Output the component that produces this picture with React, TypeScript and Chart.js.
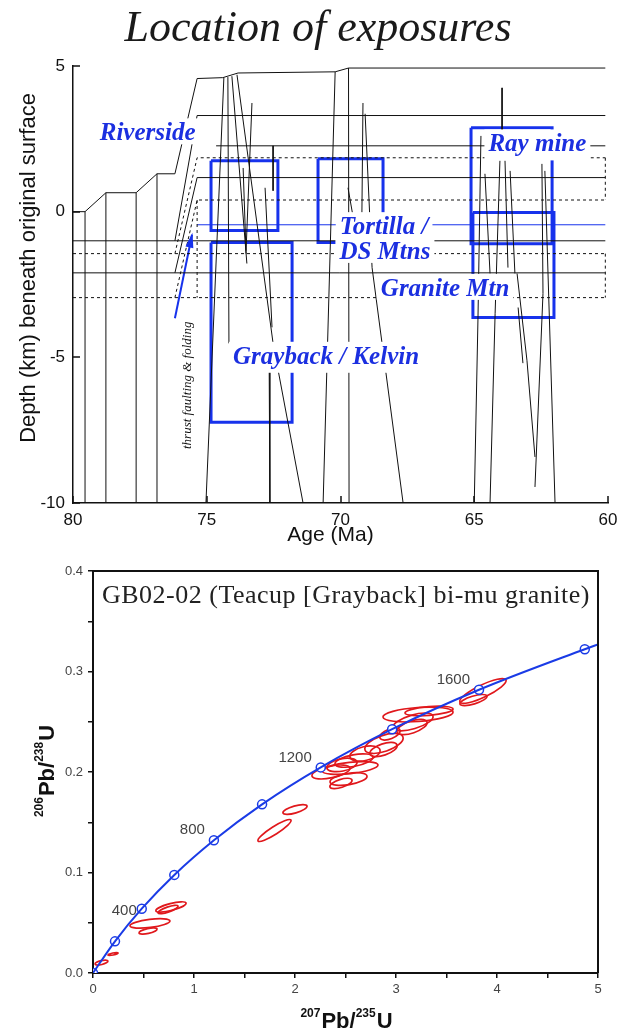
import React, { useEffect, useRef } from 'react';
import { Chart, registerables } from 'chart.js';

Chart.register(...registerables);

type Pt = [number, number];

const SANS = '"Liberation Sans", Arial, sans-serif';
const SERIF = '"Liberation Serif", "Times New Roman", serif';
const INK = '#111111';
const BLUE = '#1732ec';
const BLUE_TEXT = '#1b2fe0';
const CURVE_BLUE = '#1a3be6';
const RED = '#e0181c';

// ================= Top panel: depth vs age =================
const topTitle = 'Location of exposures';
const ageAxisTitle = 'Age (Ma)';
const depthAxisTitle = 'Depth (km) beneath original surface';
const ageTicks = [60, 65, 70, 75, 80];
const depthTicks = [-10, -5, 0, 5];

const surfaceLine: Pt[] = [
  [80, 0], [79.55, 0], [78.77, 0.65], [77.64, 0.65], [76.86, 1.3], [76.19, 1.3],
  [75.36, 4.57], [74.4, 4.6], [73.83, 4.76], [70.2, 4.8], [69.7, 4.93], [60.1, 4.93],
];
const solidLayers: Pt[][] = [
  [[80, -1.0], [60.1, -1.0]],
  [[76.19, -1.0], [75.36, 3.3], [60.1, 3.3]],
  [[80, -2.1], [60.1, -2.1]],
  [[76.19, -2.1], [75.36, 1.17], [60.1, 1.17]],
  [[74.65, 2.26], [60.1, 2.26]],
];
const dashedLayers: Pt[][] = [
  [[80, -1.44], [60.1, -1.44]],
  [[76.19, -1.44], [75.36, 1.85], [60.1, 1.85]],
  [[80, -2.95], [60.1, -2.95]],
  [[76.19, -2.95], [75.36, 0.4], [60.1, 0.4]],
  [[75.36, 0.4], [75.36, -2.95]],
  [[60.1, 1.85], [60.1, 0.4]],
  [[60.1, -1.44], [60.1, -2.95]],
];
const oldContacts: Pt[][] = [
  [[79.55, -10], [79.55, 0]],
  [[78.77, -10], [78.77, 0.65]],
  [[77.64, -10], [77.64, 0.65]],
  [[76.86, -10], [76.86, 1.3]],
];
const dikesGrayback: Pt[][] = [
  [[75.03, -10], [74.36, 4.6]],
  [[74.21, 4.62], [74.17, -4.52]],
  [[74.06, 4.65], [73.5, -1.78]],
  [[73.87, 4.7], [72.52, -4.52], [71.4, -10]],
  [[72.67, -4.52], [72.64, -10]],
  [[73.31, 3.73], [73.53, -1.34]],
  [[72.52, 2.26], [72.52, 0.72]],
  [[72.82, 0.82], [72.56, -3.97]],
  [[73.64, 1.5], [73.53, -1.44]],
];
const dikesTortilla: Pt[][] = [
  [[70.2, 4.8], [70.65, -10]],
  [[69.7, 4.93], [69.68, -10]],
  [[69.16, 3.73], [69.2, -0.07]],
  [[69.08, 3.36], [68.82, -1.92], [67.66, -10]],
  [[69.72, 0.82], [69.55, -0.07]],
];
const dikesRay: Pt[][] = [
  [[63.96, 4.25], [63.96, 2.67]],
  [[64.75, 2.6], [64.86, -3.63], [65.0, -10]],
  [[64.6, 1.3], [64.41, -2.12]],
  [[64.04, 1.75], [64.22, -3.49], [64.41, -10]],
  [[63.85, 1.75], [63.74, -1.92]],
  [[63.66, 1.4], [63.48, -2.12]],
  [[63.4, -2.12], [63.03, -5.1], [62.73, -8.42]],
  [[63.36, -3.29], [63.18, -5.2]],
  [[62.47, 1.64], [62.43, -2.81], [62.73, -9.45]],
  [[62.36, 1.4], [61.98, -10]],
];
const referenceLine: Pt[] = [[75.36, -0.45], [60.1, -0.45]];
const arrowLine: Pt[] = [[76.19, -3.66], [75.55, -0.79]];

const boxAgeFrom = [74.84, 74.84, 70.84, 65.12, 65.05];
const boxAgeTo = [72.34, 71.81, 68.41, 62.09, 62.02];
const boxDepthTop = [1.75, -1.06, 1.82, 2.88, -0.03];
const boxDepthBottom = [-0.65, -7.23, -1.06, -1.1, -3.63];

const siteLabels = ['Riverside', 'Ray mine', 'Tortilla /', 'DS Mtns', 'Granite Mtn', 'Grayback / Kelvin'];
const siteLabelAge = [77.21, 62.64, 68.37, 68.34, 66.09, 70.54];
const siteLabelDepth = [2.67, 2.29, -0.55, -1.4, -2.67, -5.0];
const thrustLabel = 'thrust faulting & folding';
const thrustLabelAge = 75.7;
const thrustLabelDepth = -5.96;

// ================= Bottom panel: concordia =================
const sampleTitle = 'GB02-02 (Teacup [Grayback] bi-mu granite)';
const concordiaX = [0, 0.2177, 0.4826, 0.805, 1.197, 1.674, 2.255, 2.962, 3.822, 4.869, 5.0];
const concordiaY = [0, 0.0315, 0.064, 0.0976, 0.1321, 0.1678, 0.2046, 0.2426, 0.2818, 0.3222, 0.327];
const markerCount = 10; // ages 0..1800 Ma every 200 Ma
const ageLabels = ['400', '800', '1200', '1600'];
const ageLabelIndex = [2, 4, 6, 8];

// error ellipses: centre, half major-axis vector (data units), minor/major ratio
const ellCX = [1.797, 2.0, 0.564, 0.545, 0.772, 0.743, 0.084, 0.198, 2.356, 2.545, 2.53, 2.584, 2.693, 2.465, 2.881, 2.876, 3.218, 3.168, 3.158, 2.94, 3.327, 3.861, 3.767, 2.455];
const ellCY = [0.1418, 0.1627, 0.0493, 0.0418, 0.0657, 0.0632, 0.0104, 0.0189, 0.2, 0.204, 0.193, 0.2114, 0.2184, 0.207, 0.2284, 0.2224, 0.2572, 0.2498, 0.2448, 0.2378, 0.2607, 0.2806, 0.2716, 0.1886];
const ellAX = [0.163, 0.119, 0.198, 0.089, 0.149, 0.099, 0.064, 0.05, 0.188, 0.277, 0.183, 0.188, 0.149, 0.149, 0.188, 0.134, 0.347, 0.198, 0.149, 0.099, 0.238, 0.228, 0.134, 0.109];
const ellAY = [0.0104, 0.0035, 0.0025, 0.002, 0.004, 0.0035, 0.0015, 0.001, 0.004, 0.003, 0.003, 0.0035, 0.0035, 0.003, 0.0065, 0.0045, 0.0025, 0.006, 0.005, 0.004, 0.002, 0.011, 0.004, 0.0035];
const ellRatio = [0.2, 0.28, 0.2, 0.27, 0.22, 0.24, 0.3, 0.2, 0.3, 0.2, 0.3, 0.3, 0.45, 0.4, 0.4, 0.4, 0.2, 0.33, 0.38, 0.45, 0.18, 0.24, 0.28, 0.35];

// ============================================================
const TOP_H = 550;
const BOT_H = 481;

const lineDs = (pts: Pt[], color: string, width: number, dash: number[] = []) => ({
  data: pts.map(([x, y]) => ({ x, y })),
  showLine: true,
  borderColor: color,
  borderWidth: width,
  borderDash: dash,
  borderJoinStyle: 'miter',
  pointRadius: 0,
  pointHoverRadius: 0,
  fill: false,
  tension: 0,
});

function topConfig(): any {
  const datasets: any[] = [];
  datasets.push(lineDs(surfaceLine, INK, 1));
  solidLayers.forEach((l) => datasets.push(lineDs(l, INK, 1)));
  dashedLayers.forEach((l) => datasets.push(lineDs(l, INK, 1, [3, 3])));
  oldContacts.forEach((l) => datasets.push(lineDs(l, INK, 1)));
  [...dikesGrayback, ...dikesTortilla, ...dikesRay].forEach((l) => datasets.push(lineDs(l, INK, 1)));
  datasets.push(lineDs(referenceLine, BLUE, 1));
  boxAgeFrom.forEach((a1, i) => {
    const a2 = boxAgeTo[i];
    const t = boxDepthTop[i];
    const b = boxDepthBottom[i];
    datasets.push(lineDs([[a1, t], [a2, t], [a2, b], [a1, b], [a1, t]], BLUE, 3));
  });
  datasets.push(lineDs(arrowLine, BLUE, 2));

  const plugin = {
    id: 'topDecor',
    afterDatasetsDraw(chart: any) {
      const { ctx, scales } = chart;
      const xs = scales.x;
      const ys = scales.y;
      ctx.save();
      // arrow head
      const n = arrowLine.length;
      const p0x = xs.getPixelForValue(arrowLine[n - 2][0]);
      const p0y = ys.getPixelForValue(arrowLine[n - 2][1]);
      const p1x = xs.getPixelForValue(arrowLine[n - 1][0]);
      const p1y = ys.getPixelForValue(arrowLine[n - 1][1]);
      const ang = Math.atan2(p1y - p0y, p1x - p0x);
      const L = 13;
      const W = 4;
      ctx.fillStyle = BLUE;
      ctx.beginPath();
      ctx.moveTo(p1x + 2 * Math.cos(ang), p1y + 2 * Math.sin(ang));
      ctx.lineTo(p1x - L * Math.cos(ang) + W * Math.sin(ang), p1y - L * Math.sin(ang) - W * Math.cos(ang));
      ctx.lineTo(p1x - L * Math.cos(ang) - W * Math.sin(ang), p1y - L * Math.sin(ang) + W * Math.cos(ang));
      ctx.closePath();
      ctx.fill();

      // site labels with white backing
      ctx.font = `italic bold 25px ${SERIF}`;
      ctx.textAlign = 'center';
      ctx.textBaseline = 'middle';
      siteLabels.forEach((t, i) => {
        const px = xs.getPixelForValue(siteLabelAge[i]);
        const py = ys.getPixelForValue(siteLabelDepth[i]);
        const m = ctx.measureText(t);
        const asc = m.actualBoundingBoxAscent;
        const desc = m.actualBoundingBoxDescent;
        ctx.fillStyle = '#ffffff';
        ctx.fillRect(px - m.width / 2 - 4, py - asc - 4, m.width + 8, asc + desc + 8);
        ctx.fillStyle = BLUE_TEXT;
        ctx.fillText(t, px, py);
      });

      // thrust label
      const tx = xs.getPixelForValue(thrustLabelAge);
      const ty = ys.getPixelForValue(thrustLabelDepth);
      ctx.translate(tx, ty);
      ctx.rotate(-Math.PI / 2);
      ctx.font = `italic 13px ${SERIF}`;
      ctx.fillStyle = INK;
      ctx.fillText(thrustLabel, 0, 0);
      ctx.restore();
    },
    afterDraw(chart: any) {
      const { ctx, chartArea: ca, scales } = chart;
      const xs = scales.x;
      const ys = scales.y;
      ctx.save();
      ctx.strokeStyle = INK;
      ctx.lineWidth = 1.5;
      ctx.beginPath();
      ageTicks.forEach((v) => {
        const px = Math.round(xs.getPixelForValue(v));
        ctx.moveTo(px, ca.bottom);
        ctx.lineTo(px, ca.bottom - 7);
      });
      depthTicks.forEach((v) => {
        const py = Math.round(ys.getPixelForValue(v));
        ctx.moveTo(ca.left, py);
        ctx.lineTo(ca.left + 7, py);
      });
      ctx.stroke();

      // title
      ctx.fillStyle = '#1a1a1a';
      ctx.textAlign = 'center';
      ctx.textBaseline = 'alphabetic';
      ctx.font = `italic 44px ${SERIF}`;
      ctx.fillText(topTitle, 318, 41);

      // axis titles
      ctx.fillStyle = INK;
      ctx.font = `21px ${SANS}`;
      ctx.textBaseline = 'alphabetic';
      ctx.fillText(ageAxisTitle, (ca.left + ca.right) / 2 - 10, ca.bottom + 38);
      ctx.textBaseline = 'middle';
      ctx.translate(29, 268);
      ctx.rotate(-Math.PI / 2);
      ctx.font = `22px ${SANS}`;
      ctx.fillText(depthAxisTitle, 0, 0);
      ctx.restore();
    },
  };

  return {
    type: 'scatter',
    data: { datasets },
    options: {
      responsive: false,
      devicePixelRatio: 1,
      animation: false,
      events: [],
      layout: { padding: { top: 66, right: 18, left: 0, bottom: 0 } },
      plugins: { legend: { display: false }, tooltip: { enabled: false } },
      scales: {
        x: {
          type: 'linear',
          min: 60,
          max: 80,
          reverse: true,
          grid: { display: false, drawTicks: false },
          border: { display: true, color: INK, width: 1.5 },
          ticks: {
            stepSize: 5,
            padding: 7,
            color: INK,
            font: { family: SANS, size: 17 },
            autoSkip: false,
            maxRotation: 0,
          },
          afterFit: (s: any) => { s.height = TOP_H - 503; },
        },
        y: {
          type: 'linear',
          min: -10,
          max: 5,
          grid: { display: false, drawTicks: false },
          border: { display: true, color: INK, width: 1.5 },
          ticks: {
            stepSize: 5,
            padding: 8,
            color: INK,
            font: { family: SANS, size: 17 },
            autoSkip: false,
          },
          afterFit: (s: any) => { s.width = 73; },
        },
      },
    },
    plugins: [plugin],
  };
}

function drawSupText(ctx: CanvasRenderingContext2D, parts: { t: string; sup: boolean }[], cx: number, baseY: number, big: number, small: number) {
  const widths: number[] = [];
  let total = 0;
  parts.forEach((p) => {
    ctx.font = `bold ${p.sup ? small : big}px ${SANS}`;
    const w = ctx.measureText(p.t).width;
    widths.push(w);
    total += w;
  });
  let x = cx - total / 2;
  ctx.textAlign = 'left';
  ctx.textBaseline = 'alphabetic';
  parts.forEach((p, i) => {
    ctx.font = `bold ${p.sup ? small : big}px ${SANS}`;
    ctx.fillText(p.t, x, p.sup ? baseY - big * 0.48 : baseY);
    x += widths[i] + (p.sup ? 1 : 0);
  });
}

function botConfig(): any {
  const curve = concordiaX.map((x, i) => ({ x, y: concordiaY[i] }));
  const markers = curve.slice(0, markerCount);
  const labelOffsetX = [-5, -9, -9, -9];
  const labelOffsetY = [2, -10, -10, -10];

  const plugin = {
    id: 'botDecor',
    beforeDatasetsDraw(chart: any) {
      const { ctx, scales } = chart;
      const xs = scales.x;
      const ys = scales.y;
      ctx.save();
      ctx.strokeStyle = RED;
      ctx.lineWidth = 1.7;
      ellCX.forEach((cx, i) => {
        const ax = xs.getPixelForValue(cx + ellAX[i]);
        const ay = ys.getPixelForValue(ellCY[i] + ellAY[i]);
        const bx = xs.getPixelForValue(cx - ellAX[i]);
        const by = ys.getPixelForValue(ellCY[i] - ellAY[i]);
        const mx = (ax + bx) / 2;
        const my = (ay + by) / 2;
        const r = Math.hypot(ax - bx, ay - by) / 2;
        const ang = Math.atan2(ay - by, ax - bx);
        ctx.beginPath();
        ctx.ellipse(mx, my, r, Math.max(1, r * ellRatio[i]), ang, 0, Math.PI * 2);
        ctx.stroke();
      });
      ctx.restore();
    },
    afterDatasetsDraw(chart: any) {
      const { ctx, chartArea: ca, scales } = chart;
      const xs = scales.x;
      const ys = scales.y;
      ctx.save();
      // age labels
      ctx.fillStyle = '#444444';
      ctx.font = `15px ${SANS}`;
      ctx.textAlign = 'right';
      ctx.textBaseline = 'middle';
      ageLabels.forEach((t, i) => {
        const k = ageLabelIndex[i];
        const px = xs.getPixelForValue(concordiaX[k]);
        const py = ys.getPixelForValue(concordiaY[k]);
        ctx.fillText(t, px + labelOffsetX[i], py + labelOffsetY[i]);
      });
      // sample title
      ctx.fillStyle = '#222222';
      ctx.font = `26px ${SERIF}`;
      ctx.textAlign = 'left';
      ctx.textBaseline = 'alphabetic';
      (ctx as any).letterSpacing = '0.5px';
      ctx.fillText(sampleTitle, ca.left + 9, ca.top + 32);
      (ctx as any).letterSpacing = '0px';
      // frame top/right
      ctx.strokeStyle = INK;
      ctx.lineWidth = 2;
      ctx.beginPath();
      ctx.moveTo(ca.left, ca.top);
      ctx.lineTo(ca.right, ca.top);
      ctx.lineTo(ca.right, ca.bottom);
      ctx.stroke();
      ctx.restore();
    },
    afterDraw(chart: any) {
      const { ctx, chartArea: ca } = chart;
      ctx.save();
      ctx.fillStyle = INK;
      drawSupText(ctx, [
        { t: '207', sup: true }, { t: 'Pb/', sup: false }, { t: '235', sup: true }, { t: 'U', sup: false },
      ], (ca.left + ca.right) / 2, ca.bottom + 55, 22, 12);
      ctx.translate(54, (ca.top + ca.bottom) / 2);
      ctx.rotate(-Math.PI / 2);
      drawSupText(ctx, [
        { t: '206', sup: true }, { t: 'Pb/', sup: false }, { t: '238', sup: true }, { t: 'U', sup: false },
      ], 0, 0, 22, 12);
      ctx.restore();
    },
  };

  return {
    type: 'scatter',
    data: {
      datasets: [
        {
          data: curve,
          showLine: true,
          borderColor: CURVE_BLUE,
          borderWidth: 2,
          pointRadius: 0,
          pointHoverRadius: 0,
          cubicInterpolationMode: 'monotone',
          fill: false,
        },
        {
          data: markers,
          showLine: false,
          pointRadius: 4.5,
          pointHoverRadius: 4.5,
          pointStyle: 'circle',
          pointBackgroundColor: '#ffffff',
          pointBorderColor: CURVE_BLUE,
          pointBorderWidth: 1.5,
        },
      ],
    },
    options: {
      responsive: false,
      devicePixelRatio: 1,
      animation: false,
      events: [],
      layout: { padding: { top: 571 - TOP_H, right: 28, left: 0, bottom: 0 } },
      plugins: { legend: { display: false }, tooltip: { enabled: false } },
      scales: {
        x: {
          type: 'linear',
          min: 0,
          max: 5,
          grid: { display: true, drawOnChartArea: false, drawTicks: true, tickLength: 5, color: INK, lineWidth: 1.5 },
          border: { display: true, color: INK, width: 2 },
          ticks: {
            stepSize: 0.5,
            padding: 4,
            color: '#444444',
            autoSkip: false,
            maxRotation: 0,
            font: { family: SANS, size: 13 },
            callback: (v: any) => (Math.abs(v - Math.round(v)) < 1e-6 ? String(Math.round(v)) : ''),
          },
          afterFit: (s: any) => { s.height = BOT_H - (973 - TOP_H); },
        },
        y: {
          type: 'linear',
          min: 0,
          max: 0.4,
          grid: { display: true, drawOnChartArea: false, drawTicks: true, tickLength: 5, color: INK, lineWidth: 1.5 },
          border: { display: true, color: INK, width: 2 },
          ticks: {
            stepSize: 0.05,
            padding: 5,
            color: '#444444',
            autoSkip: false,
            font: { family: SANS, size: 13 },
            callback: (v: any) => {
              const k = Math.round(v * 100);
              return k % 10 === 0 ? (k / 100).toFixed(1) : '';
            },
          },
          afterFit: (s: any) => { s.width = 93; },
        },
      },
    },
    plugins: [plugin],
  };
}

export default function App() {
  const topRef = useRef<HTMLCanvasElement>(null);
  const botRef = useRef<HTMLCanvasElement>(null);
  useEffect(() => {
    const c1 = new Chart(topRef.current as HTMLCanvasElement, topConfig());
    const c2 = new Chart(botRef.current as HTMLCanvasElement, botConfig());
    return () => {
      c1.destroy();
      c2.destroy();
    };
  }, []);
  return (
    <div style={{ position: 'absolute', left: 0, top: 0, width: 626, height: 1031, background: '#ffffff', overflow: 'hidden' }}>
      <canvas ref={topRef} width={626} height={TOP_H} style={{ position: 'absolute', left: 0, top: 0, width: 626, height: TOP_H }} />
      <canvas ref={botRef} width={626} height={BOT_H} style={{ position: 'absolute', left: 0, top: TOP_H, width: 626, height: BOT_H }} />
    </div>
  );
}
